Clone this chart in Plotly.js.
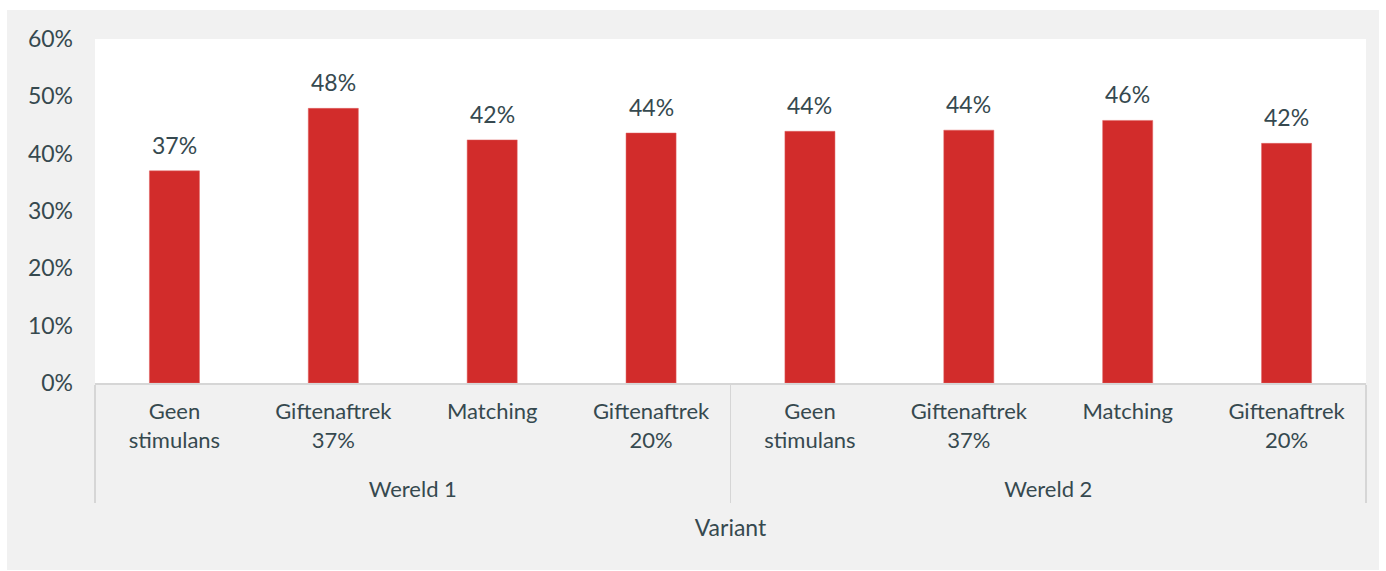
<!DOCTYPE html>
<html>
<head>
<meta charset="utf-8">
<script src="https://cdn.plot.ly/plotly-3.0.1.min.js"></script>
<style>
  html, body { margin: 0; padding: 0; background: #ffffff; width: 1386px; height: 571px; overflow: hidden; }
  #chart { position: absolute; left: 7px; top: 10px; width: 1372px; height: 560px; }
</style>
</head>
<body>
<div id="chart"></div>
<script>
// outer level (leading line break gives the extra space seen between the two label rows)
const worlds = ["<br>Wereld 1", "<br>Wereld 1", "<br>Wereld 1", "<br>Wereld 1",
                "<br>Wereld 2", "<br>Wereld 2", "<br>Wereld 2", "<br>Wereld 2"];
const variants = ["Geen<br>stimulans", "Giftenaftrek<br>37%", "Matching", "Giftenaftrek<br>20%",
                  "Geen<br>stimulans", "Giftenaftrek<br>37%", "Matching", "Giftenaftrek<br>20%"];
const shares = [0.37, 0.479, 0.424, 0.436, 0.439, 0.441, 0.458, 0.418];
const yTicks = [0, 0.1, 0.2, 0.3, 0.4, 0.5, 0.6];

const textColor = "#36494f";
const fontFamily = "Lato, 'Open Sans', sans-serif";
const fs = 23;

const trace = {
  type: "bar",
  x: [worlds, variants],
  y: shares,
  width: 0.315,
  marker: { color: "#d22c2b", line: { color: "#e06060", width: 0.5 } },
  hoverinfo: "none"
};

const annotations = shares.map((v, i) => ({
  x: i,
  y: v,
  xref: "x",
  yref: "y",
  text: Math.round(v * 100) + "%",
  showarrow: false,
  yanchor: "bottom",
  yshift: 10,
  font: { family: fontFamily, size: fs, color: textColor }
}));

const layout = {
  width: 1372,
  height: 560,
  margin: { l: 88, r: 13, t: 29, b: 187 },
  paper_bgcolor: "#f1f1f1",
  plot_bgcolor: "#ffffff",
  font: { family: fontFamily, size: fs, color: textColor },
  showlegend: false,
  xaxis: {
    type: "multicategory",
    showline: true,
    linecolor: "#d6d6d6",
    linewidth: 1.5,
    showdividers: true,
    dividercolor: "#d6d6d6",
    dividerwidth: 1.5,
    showgrid: false,
    zeroline: false,
    ticks: "",
    ticklabelstandoff: 8,
    tickfont: { family: fontFamily, size: 22, color: textColor },
    title: { text: "Variant", font: { family: fontFamily, size: fs, color: textColor }, standoff: 19 }
  },
  yaxis: {
    range: [0, 0.6],
    tickvals: yTicks,
    tickformat: ".0%",
    showgrid: false,
    zeroline: false,
    showline: false,
    ticks: "",
    ticklabelstandoff: 21,
    tickfont: { family: fontFamily, size: fs, color: textColor }
  },
  annotations: annotations
};

Plotly.newPlot("chart", [trace], layout, { displayModeBar: false, staticPlot: true });
</script>
</body>
</html>
